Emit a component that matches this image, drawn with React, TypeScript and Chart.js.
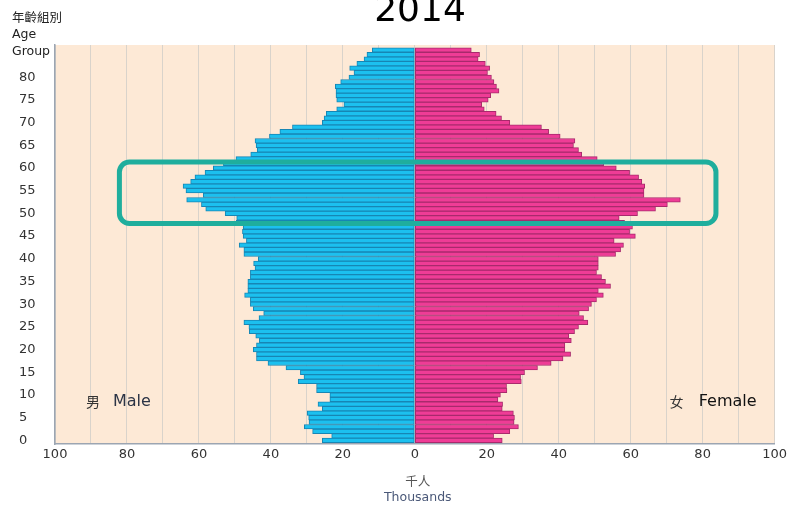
import { useEffect, useRef } from "react";
import { Chart, registerables } from "chart.js";

Chart.register(...registerables);

// Population (thousands) by single year of age, index = age (0..86)
const maleThousands = [
  25.7, 23.1, 28.4, 30.7, 29.4, 29.5, 29.9, 25.7, 26.9, 23.6,
  23.6, 27.3, 27.3, 32.4, 30.8, 31.8, 35.8, 40.8, 44.0, 44.0,
  44.9, 44.0, 43.2, 44.2, 46.0, 46.1, 47.5, 43.3, 42.0, 44.9,
  45.7, 45.7, 47.3, 46.4, 46.4, 46.4, 45.7, 45.7, 44.4, 44.8,
  43.5, 47.5, 47.5, 48.8, 46.8, 47.7, 47.9, 47.7, 49.6, 49.5,
  52.7, 58.1, 59.3, 63.4, 58.8, 63.6, 64.4, 62.3, 61.1, 58.3,
  56.0, 53.2, 49.7, 45.6, 43.8, 44.1, 44.4, 40.4, 37.5, 34.0,
  25.7, 25.2, 24.6, 21.7, 19.7, 21.7, 21.9, 21.9, 22.1, 20.6,
  18.3, 16.9, 18.1, 16.1, 14.1, 13.3, 11.8,
];

const femaleThousands = [
  24.3, 21.9, 26.4, 28.8, 27.6, 27.7, 27.4, 24.3, 24.4, 23.1,
  23.8, 25.6, 25.5, 29.6, 29.4, 30.5, 34.1, 37.9, 41.2, 43.3,
  41.7, 41.7, 43.5, 42.8, 44.4, 45.5, 48.1, 46.9, 45.7, 48.3,
  49.1, 50.5, 52.4, 51.0, 54.4, 53.0, 51.9, 50.5, 51.0, 51.0,
  51.0, 55.8, 57.2, 58.0, 55.4, 61.3, 59.7, 60.5, 58.3, 56.8,
  61.9, 66.9, 70.2, 73.8, 63.7, 63.7, 63.9, 63.1, 62.2, 59.7,
  56.0, 52.5, 50.7, 46.4, 45.5, 44.1, 44.5, 40.4, 37.2, 35.2,
  26.4, 24.1, 22.6, 19.3, 18.6, 20.4, 21.1, 23.4, 22.7, 22.0,
  21.3, 20.2, 20.8, 19.6, 17.6, 18.0, 15.7,
];

const ages = maleThousands.map((_, i) => i);
const ageTickLabels = [0, 5, 10, 15, 20, 25, 30, 35, 40, 45, 50, 55, 60, 65, 70, 75, 80];
const valueGridLines = [-100, -90, -80, -70, -60, -50, -40, -30, -20, -10, 0, 10, 20, 30, 40, 50, 60, 70, 80, 90, 100];
const valueTickLabels = [100, 80, 60, 40, 20, 0, 20, 40, 60, 80, 100];

// highlighted group (age range, thousands range)
const highlightAges = [47.8, 61.3];
const highlightThousands = [-82.1, 83.7];

const titleText = "2014";
const axisTitleZh = "年齡組別";
const axisTitleEn = ["Age", "Group"];
const maleLabel = ["男", "Male"];
const femaleLabel = ["女", "Female"];
const unitLabel = ["千人", "Thousands"];

const PEACH = "#fde9d6";
const SANS = "'DejaVu Sans', Verdana, sans-serif";
const CJK = "'Noto Sans CJK TC', 'Noto Sans CJK SC', sans-serif";

const backgroundPlugin = {
  id: "plotBackground",
  beforeDraw(chart: any) {
    const { ctx, chartArea } = chart;
    ctx.save();
    ctx.fillStyle = "#ffffff";
    ctx.fillRect(0, 0, chart.width, chart.height);
    ctx.fillStyle = PEACH;
    ctx.fillRect(chartArea.left, chartArea.top, chartArea.right - chartArea.left, chartArea.bottom - chartArea.top);
    ctx.restore();
  },
};

const highlightPlugin = {
  id: "highlightBox",
  afterDatasetsDraw(chart: any) {
    const { ctx } = chart;
    const xs = chart.scales.x;
    const ys = chart.scales.y;
    const x1 = xs.getPixelForValue(highlightThousands[0]);
    const x2 = xs.getPixelForValue(highlightThousands[1]);
    const y1 = ys.getPixelForValue(highlightAges[1]);
    const y2 = ys.getPixelForValue(highlightAges[0]);
    ctx.save();
    ctx.strokeStyle = "#1fae9d";
    ctx.lineWidth = 5;
    ctx.beginPath();
    if (ctx.roundRect) ctx.roundRect(x1, y1, x2 - x1, y2 - y1, 10);
    else ctx.rect(x1, y1, x2 - x1, y2 - y1);
    ctx.stroke();
    ctx.restore();
  },
};

const textPlugin = {
  id: "texts",
  afterDraw(chart: any) {
    const { ctx, chartArea } = chart;
    ctx.save();
    ctx.fillStyle = "#000";
    ctx.font = `36px ${SANS}`;
    ctx.textAlign = "center";
    ctx.textBaseline = "alphabetic";
    ctx.fillText(titleText, 420, 21);

    ctx.textAlign = "left";
    ctx.textBaseline = "middle";
    ctx.fillStyle = "#222";
    ctx.font = `12.5px ${CJK}`;
    ctx.fillText(axisTitleZh, 12, 17);
    ctx.font = `12.5px ${SANS}`;
    ctx.fillText(axisTitleEn[0], 12, 35);
    ctx.fillText(axisTitleEn[1], 12, 52);

    const ly = 402;
    ctx.fillStyle = "#333";
    ctx.font = `14px ${CJK}`;
    ctx.fillText(maleLabel[0], chartArea.left + 31, ly);
    ctx.fillStyle = "#2c3446";
    ctx.font = `16px ${SANS}`;
    ctx.fillText(maleLabel[1], chartArea.left + 58, ly);

    ctx.fillStyle = "#333";
    ctx.font = `14px ${CJK}`;
    ctx.fillText(femaleLabel[0], chartArea.right - 105, ly);
    ctx.fillStyle = "#111";
    ctx.font = `16px ${SANS}`;
    ctx.textAlign = "right";
    ctx.fillText(femaleLabel[1], chartArea.right - 18, ly);

    ctx.textAlign = "center";
    const cx = (chartArea.left + chartArea.right) / 2 + 3;
    ctx.fillStyle = "#555";
    ctx.font = `12.5px ${CJK}`;
    ctx.fillText(unitLabel[0], cx, 481);
    ctx.fillStyle = "#4a5878";
    ctx.font = `12.5px ${SANS}`;
    ctx.fillText(unitLabel[1], cx, 498);
    ctx.restore();
  },
};

export default function App() {
  const canvasRef = useRef<HTMLCanvasElement | null>(null);

  useEffect(() => {
    if (!canvasRef.current) return;
    const chart = new Chart(canvasRef.current, {
      type: "bar",
      data: {
        datasets: [
          {
            label: "Male",
            data: ages.map((a) => ({ x: -maleThousands[a], y: a })),
            backgroundColor: "#1cc0ef",
            borderColor: "#1786b4",
            borderWidth: 1,
            borderSkipped: false,
            grouped: false,
            barPercentage: 1,
            categoryPercentage: 1,
          },
          {
            label: "Female",
            data: ages.map((a) => ({ x: femaleThousands[a], y: a })),
            backgroundColor: "#ef3c96",
            borderColor: "#a82a6c",
            borderWidth: 1,
            borderSkipped: false,
            grouped: false,
            barPercentage: 1,
            categoryPercentage: 1,
          },
        ] as any,
      },
      options: {
        indexAxis: "y",
        animation: false,
        responsive: false,
        devicePixelRatio: 1,
        layout: { padding: { left: 19, right: 15, top: 45, bottom: 31 } },
        plugins: {
          legend: { display: false },
          title: { display: false },
          tooltip: { enabled: false },
        },
        scales: {
          x: {
            type: "linear",
            min: -100,
            max: 100,
            offset: false,
            position: "bottom",
            afterBuildTicks: (scale: any) => {
              scale.ticks = valueGridLines.map((v) => ({ value: v }));
            },
            afterFit: (scale: any) => {
              scale.height = 30;
            },
            ticks: {
              autoSkip: false,
              maxRotation: 0,
              padding: 3,
              color: "#333",
              font: { family: SANS, size: 13 },
              callback: (v: any) => {
                const idx = valueGridLines.indexOf(Number(v));
                return idx % 2 === 0 ? String(valueTickLabels[idx / 2]) : "";
              },
            },
            grid: { color: "#d9d3cb", lineWidth: 1, drawTicks: false, offset: false },
            border: { display: true, color: "#9ca5b2", width: 1.5 },
          },
          y: {
            type: "linear",
            min: -0.8,
            max: 87.1,
            offset: false,
            position: "left",
            afterBuildTicks: (scale: any) => {
              scale.ticks = ageTickLabels.map((v) => ({ value: v }));
            },
            afterFit: (scale: any) => {
              scale.width = 36;
            },
            ticks: {
              autoSkip: false,
              padding: 0,
              crossAlign: "far",
              color: "#333",
              font: { family: SANS, size: 13 },
              callback: (v: any) => String(v),
            },
            grid: { display: false, drawTicks: false, offset: false },
            border: { display: true, color: "#9ca5b2", width: 1.5 },
          },
        },
      } as any,
      plugins: [backgroundPlugin, highlightPlugin, textPlugin],
    });
    return () => chart.destroy();
  }, []);

  return (
    <div style={{ position: "fixed", left: 0, top: 0, width: 790, height: 505, background: "#fff" }}>
      <canvas ref={canvasRef} width={790} height={505} style={{ display: "block", width: 790, height: 505 }} />
    </div>
  );
}
